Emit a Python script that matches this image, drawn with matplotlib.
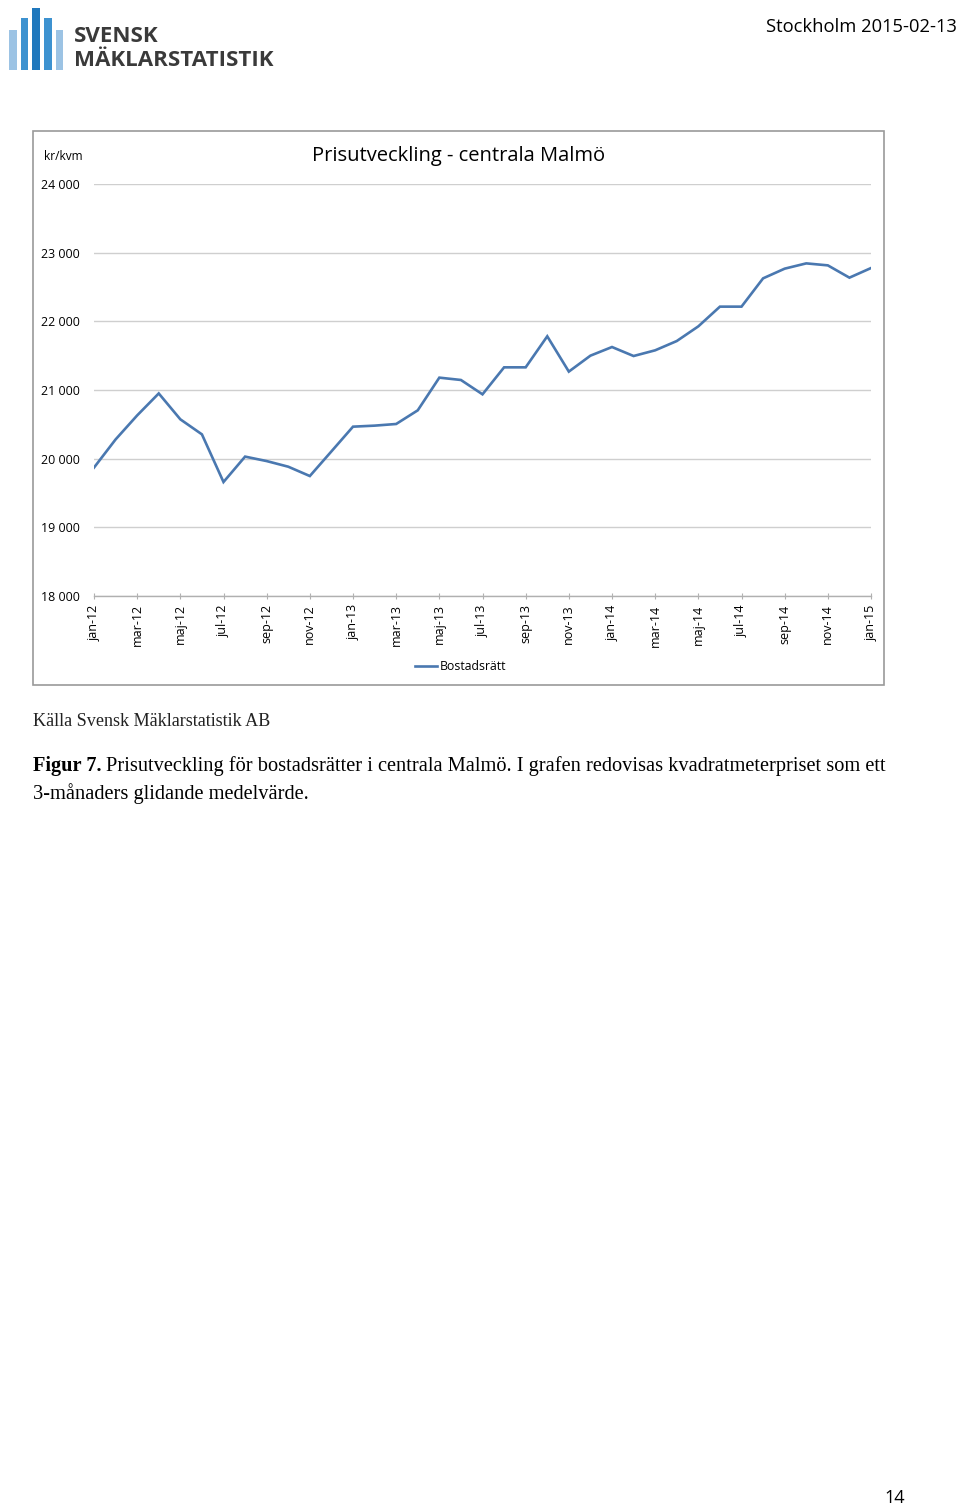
import matplotlib
matplotlib.use("Agg")
import matplotlib.pyplot as plt
from matplotlib.patches import Rectangle
from matplotlib.lines import Line2D

# ---- data ----
months = ["jan-12", "feb-12", "mar-12", "apr-12", "maj-12", "jun-12", "jul-12", "aug-12",
          "sep-12", "okt-12", "nov-12", "dec-12", "jan-13", "feb-13", "mar-13", "apr-13",
          "maj-13", "jun-13", "jul-13", "aug-13", "sep-13", "okt-13", "nov-13", "dec-13",
          "jan-14", "feb-14", "mar-14", "apr-14", "maj-14", "jun-14", "jul-14", "aug-14",
          "sep-14", "okt-14", "nov-14", "dec-14", "jan-15"]
bostadsratt = [19870, 20280, 20630, 20950, 20573, 20354, 19660, 20030,
               19965, 19883, 19747, 20106, 20466, 20481, 20505, 20704,
               21180, 21146, 20937, 21330, 21330, 21782, 21268, 21500,
               21626, 21495, 21578, 21713, 21927, 22214, 22214, 22626,
               22767, 22844, 22815, 22636, 22776]
yticks = [18000, 19000, 20000, 21000, 22000, 23000, 24000]
ytick_labels = ["18 000", "19 000", "20 000", "21 000", "22 000", "23 000", "24 000"]
series_name = "Bostadsrätt"
chart_title = "Prisutveckling - centrala Malmö"
logo_heights = [0.62, 0.81, 0.97, 0.81, 0.62]
logo_colors = ["#9cc3e4", "#3d92d0", "#1f78bd", "#3d92d0", "#9cc3e4"]

W, H = 960, 1506
fig = plt.figure(figsize=(W / 100, H / 100), dpi=100)
fig.patch.set_facecolor("white")

def fx(px):
    return px / W

def fy(py):
    return 1 - py / H

sans = ["Open Sans", "DejaVu Sans"]
serif = ["Liberation Serif", "DejaVu Serif"]

# ---- header: logo ----
bar_w = 7.5
bar_x = [9, 20.7, 32.4, 44.1, 55.8]
for x0, h, c in zip(bar_x, logo_heights, logo_colors):
    hp = h * 64
    fig.add_artist(Rectangle((fx(x0), fy(70)), fx(bar_w), hp / H,
                             transform=fig.transFigure, color=c, lw=0))
fig.text(fx(74), fy(37), "SVENSK", family=sans, fontsize=16, fontweight="bold",
         color="#3a3a3a", va="center", ha="left")
fig.text(fx(74), fy(60), "MÄKLARSTATISTIK", family=sans, fontsize=16, fontweight="bold",
         color="#3a3a3a", va="center", ha="left")
fig.text(fx(957), fy(27), "Stockholm 2015-02-13", family=sans, fontsize=13.2,
         color="black", va="center", ha="right")

# ---- chart frame ----
fig.add_artist(Rectangle((fx(33), fy(685)), fx(884 - 33), (685 - 131) / H,
                         transform=fig.transFigure, fill=False, edgecolor="#9a9a9a", lw=1.2))

ax = fig.add_axes([fx(94), fy(596), fx(871 - 94), (596 - 184) / H])
ax.set_facecolor("none")
x = list(range(len(months)))
ax.plot(x, bostadsratt, color="#4a78b0", lw=1.9, solid_joinstyle="miter")
ax.set_xlim(0, len(months) - 1)
ax.set_ylim(yticks[0], yticks[-1])
ax.set_yticks(yticks)
ax.set_yticklabels(ytick_labels, family=sans, fontsize=8.9)
ax.tick_params(axis="y", length=0, pad=10)
ax.set_xticks(x[::2])
ax.set_xticklabels(months[::2], rotation=90, family=sans, fontsize=9)
ax.tick_params(axis="x", length=4, color="#b0b0b0", pad=4, direction="inout")
ax.grid(axis="y", color="#cfcfcf", lw=1)
ax.set_axisbelow(True)
for s in ["top", "right", "left"]:
    ax.spines[s].set_visible(False)
ax.spines["bottom"].set_color("#b0b0b0")
ax.spines["bottom"].set_linewidth(1)

fig.text(fx(44), fy(157), "kr/kvm", family=sans, fontsize=8.6, va="center", ha="left")
fig.text(fx(459), fy(156), chart_title, family=sans, fontsize=14.5, va="center", ha="center")

# legend
fig.add_artist(Line2D([fx(415), fx(437)], [fy(666), fy(666)], transform=fig.transFigure,
                      color="#4a78b0", lw=1.9))
fig.text(fx(440), fy(666), series_name, family=sans, fontsize=8.8, va="center", ha="left")

# ---- caption ----
fig.text(fx(33), fy(721), "Källa Svensk Mäklarstatistik AB", family=serif, fontsize=13.1,
         va="center", ha="left", color="#222222")
t1 = fig.text(fx(33), fy(766), "Figur 7.", family=serif, fontsize=14.7, fontweight="bold",
              va="center", ha="left")
fig.canvas.draw()
bb = t1.get_window_extent()
fig.text(bb.x1 / W + fx(5), fy(766),
         "Prisutveckling för bostadsrätter i centrala Malmö. I grafen redovisas kvadratmeterpriset som ett",
         family=serif, fontsize=14.7, va="center", ha="left")
fig.text(fx(33), fy(794), "3-månaders glidande medelvärde.", family=serif, fontsize=14.7,
         va="center", ha="left")

fig.text(fx(905), fy(1498), "14", family=sans, fontsize=13, va="center", ha="right")

fig.savefig("out.png", dpi=100, facecolor="white")
